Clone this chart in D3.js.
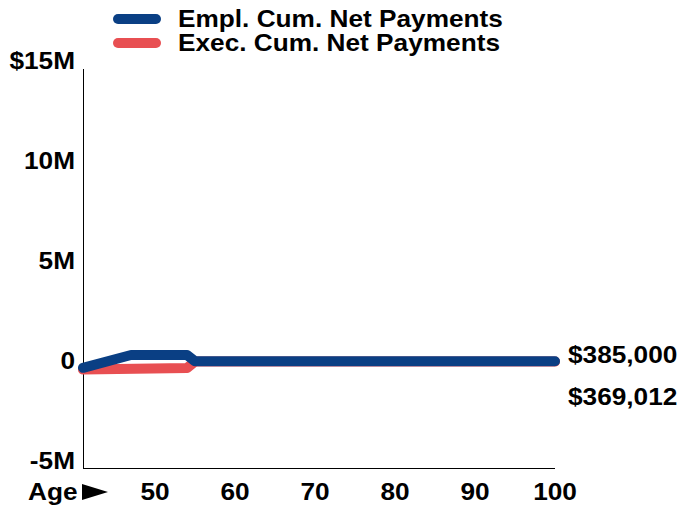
<!DOCTYPE html>
<html>
<head>
<meta charset="utf-8">
<script src="https://cdn.jsdelivr.net/npm/d3@7"></script>
<style>
  html, body { margin: 0; padding: 0; background: #fff; }
  svg text { font-family: "Liberation Sans", Arial, sans-serif; font-weight: bold; fill: #000; }
</style>
</head>
<body>
<svg id="chart" width="681" height="506"></svg>
<script>
// ---- data ----
const seriesNames = ["Empl. Cum. Net Payments", "Exec. Cum. Net Payments"];
const seriesColors = ["#0a3f84", "#e84f52"];
const emplAges = [41, 47, 54, 55, 100];
const emplValues = [60000, 700000, 700000, 385000, 385000];
const execAges = [41, 54, 55, 100];
const execValues = [-30000, 50000, 369012, 369012];
const xTicks = [50, 60, 70, 80, 90, 100];
const yTicks = [-5e6, 0, 5e6, 10e6, 15e6];
const yTickLabels = ["-5M", "0", "5M", "10M", "$15M"];
const endLabels = ["$385,000", "$369,012"];

// ---- layout ----
const svg = d3.select("#chart");
const mLeft = 83, mRight = 555, mTop = 69, mBottom = 469;
const x = d3.scaleLinear().domain([41, 100]).range([mLeft, mRight]);
const y = d3.scaleLinear().domain([-5e6, 15e6]).range([mBottom, mTop]);
const fs = 23;
const sx = 1.14;

function txt(g, s, px, py, anchor) {
  return g.append("text").text(s).attr("font-size", fs)
    .attr("text-anchor", anchor || "start")
    .attr("transform", `translate(${px},${py}) scale(${sx},1)`);
}

// axes lines
svg.append("line").attr("x1", mLeft + 0.5).attr("x2", mLeft + 0.5)
  .attr("y1", mTop).attr("y2", mBottom - 0.5).attr("stroke", "#000").attr("stroke-width", 1);
svg.append("line").attr("x1", mLeft).attr("x2", mRight)
  .attr("y1", mBottom - 0.5).attr("y2", mBottom - 0.5).attr("stroke", "#000").attr("stroke-width", 1);

// y tick labels
yTicks.forEach((v, i) => txt(svg, yTickLabels[i], 75, y(v), "end"));

// x tick labels
xTicks.forEach(v => txt(svg, String(v), x(v), 500, "middle"));
txt(svg, "Age", 28, 500, "start");
svg.append("path").attr("d", d3.line()([[82, 484], [108, 492], [82, 500]]) + "Z").attr("fill", "#000");

// lines
const line = d3.line().x(d => x(d[0])).y(d => y(d[1]));
const exec = execAges.map((a, i) => [a, execValues[i]]);
const empl = emplAges.map((a, i) => [a, emplValues[i]]);
[[exec, seriesColors[1]], [empl, seriesColors[0]]].forEach(([d, c]) => {
  svg.append("path").datum(d).attr("d", line).attr("fill", "none")
    .attr("stroke", c).attr("stroke-width", 10)
    .attr("stroke-linecap", "round").attr("stroke-linejoin", "round");
});

// end labels
const yEnd = y(emplValues[emplValues.length - 1]);
txt(svg, endLabels[0], 568, yEnd + 2, "start");
txt(svg, endLabels[1], 568, yEnd + 44, "start");

// legend
seriesNames.forEach((n, i) => {
  const ly = 19 + i * 24;
  svg.append("line").attr("x1", 118).attr("x2", 156).attr("y1", ly).attr("y2", ly)
    .attr("stroke", seriesColors[i]).attr("stroke-width", 10).attr("stroke-linecap", "round");
  txt(svg, n, 178, ly + 8, "start");
});
</script>
</body>
</html>
